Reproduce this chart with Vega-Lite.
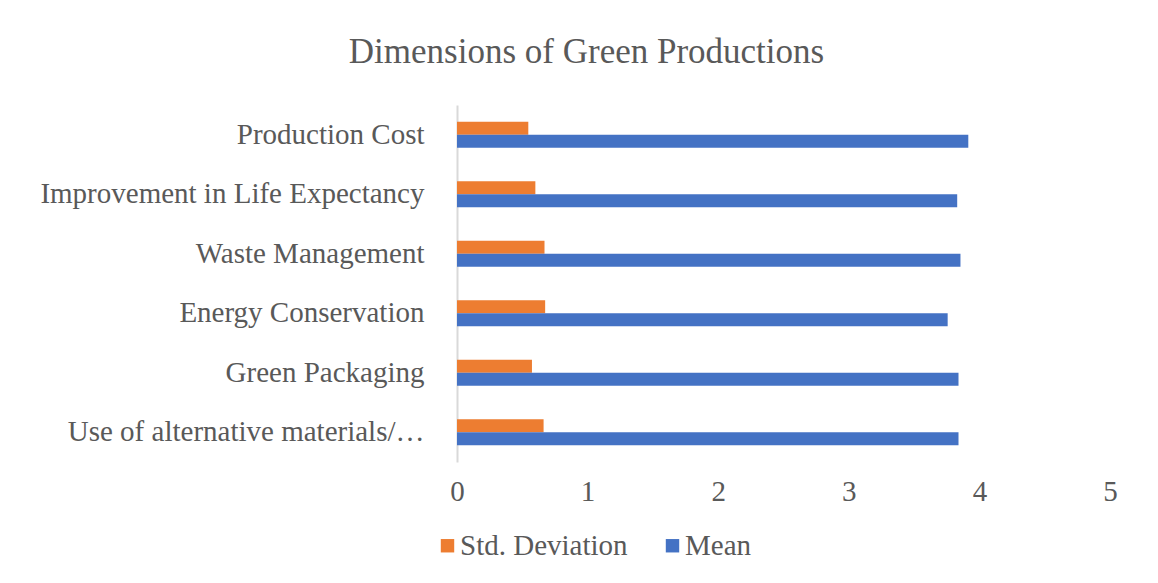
{
  "$schema": "https://vega.github.io/schema/vega-lite/v6.json",
  "width": 653,
  "height": 357,
  "autosize": {"type": "none"},
  "padding": {"left": 457, "top": 105, "right": 48, "bottom": 121},
  "background": "white",
  "title": {
    "text": "Dimensions of Green Productions",
    "font": "Liberation Serif",
    "fontSize": 35,
    "fontWeight": "normal",
    "color": "#595959",
    "anchor": "middle",
    "dx": -197,
    "baseline": "alphabetic",
    "offset": 7
  },
  "data": {
    "values": [
      {"dimension": "Production Cost", "series": "Std. Deviation", "value": 0.546},
      {"dimension": "Production Cost", "series": "Mean", "value": 3.915},
      {"dimension": "Improvement in Life Expectancy", "series": "Std. Deviation", "value": 0.60},
      {"dimension": "Improvement in Life Expectancy", "series": "Mean", "value": 3.83},
      {"dimension": "Waste Management", "series": "Std. Deviation", "value": 0.67},
      {"dimension": "Waste Management", "series": "Mean", "value": 3.855},
      {"dimension": "Energy Conservation", "series": "Std. Deviation", "value": 0.675},
      {"dimension": "Energy Conservation", "series": "Mean", "value": 3.757},
      {"dimension": "Green Packaging", "series": "Std. Deviation", "value": 0.574},
      {"dimension": "Green Packaging", "series": "Mean", "value": 3.84},
      {"dimension": "Use of alternative materials/…", "series": "Std. Deviation", "value": 0.663},
      {"dimension": "Use of alternative materials/…", "series": "Mean", "value": 3.84}
    ]
  },
  "mark": {"type": "bar"},
  "encoding": {
    "y": {
      "field": "dimension",
      "type": "nominal",
      "sort": ["Production Cost", "Improvement in Life Expectancy", "Waste Management", "Energy Conservation", "Green Packaging", "Use of alternative materials/…"],
      "scale": {"paddingInner": 0.56, "paddingOuter": 0.28},
      "axis": {
        "title": null,
        "ticks": false,
        "domain": true,
        "domainColor": "#d9d9d9",
        "domainWidth": 2,
        "labelFont": "Liberation Serif",
        "labelFontSize": 29,
        "labelColor": "#595959",
        "labelPadding": 33,
        "labelLimit": 500
      }
    },
    "yOffset": {
      "field": "series",
      "type": "nominal",
      "sort": ["Std. Deviation", "Mean"]
    },
    "x": {
      "field": "value",
      "type": "quantitative",
      "scale": {"domain": [0, 5]},
      "axis": {
        "title": null,
        "values": [0, 1, 2, 3, 4, 5],
        "grid": false,
        "ticks": false,
        "domain": false,
        "labelFont": "Liberation Serif",
        "labelFontSize": 29,
        "labelColor": "#595959",
        "labelPadding": 15,
        "labelFlush": false
      }
    },
    "color": {
      "field": "series",
      "type": "nominal",
      "sort": ["Std. Deviation", "Mean"],
      "scale": {"domain": ["Std. Deviation", "Mean"], "range": ["#ED7D31", "#4472C4"]},
      "legend": {
        "title": null,
        "orient": "none",
        "direction": "horizontal",
        "legendX": -24,
        "legendY": 426,
        "symbolType": "square",
        "symbolSize": 180,
        "symbolStrokeWidth": 0,
        "labelFont": "Liberation Serif",
        "labelFontSize": 29,
        "labelColor": "#595959",
        "labelOffset": -2,
        "labelLimit": 400,
        "columnPadding": 30,
        "padding": 0
      }
    }
  },
  "config": {"view": {"stroke": null}}
}
